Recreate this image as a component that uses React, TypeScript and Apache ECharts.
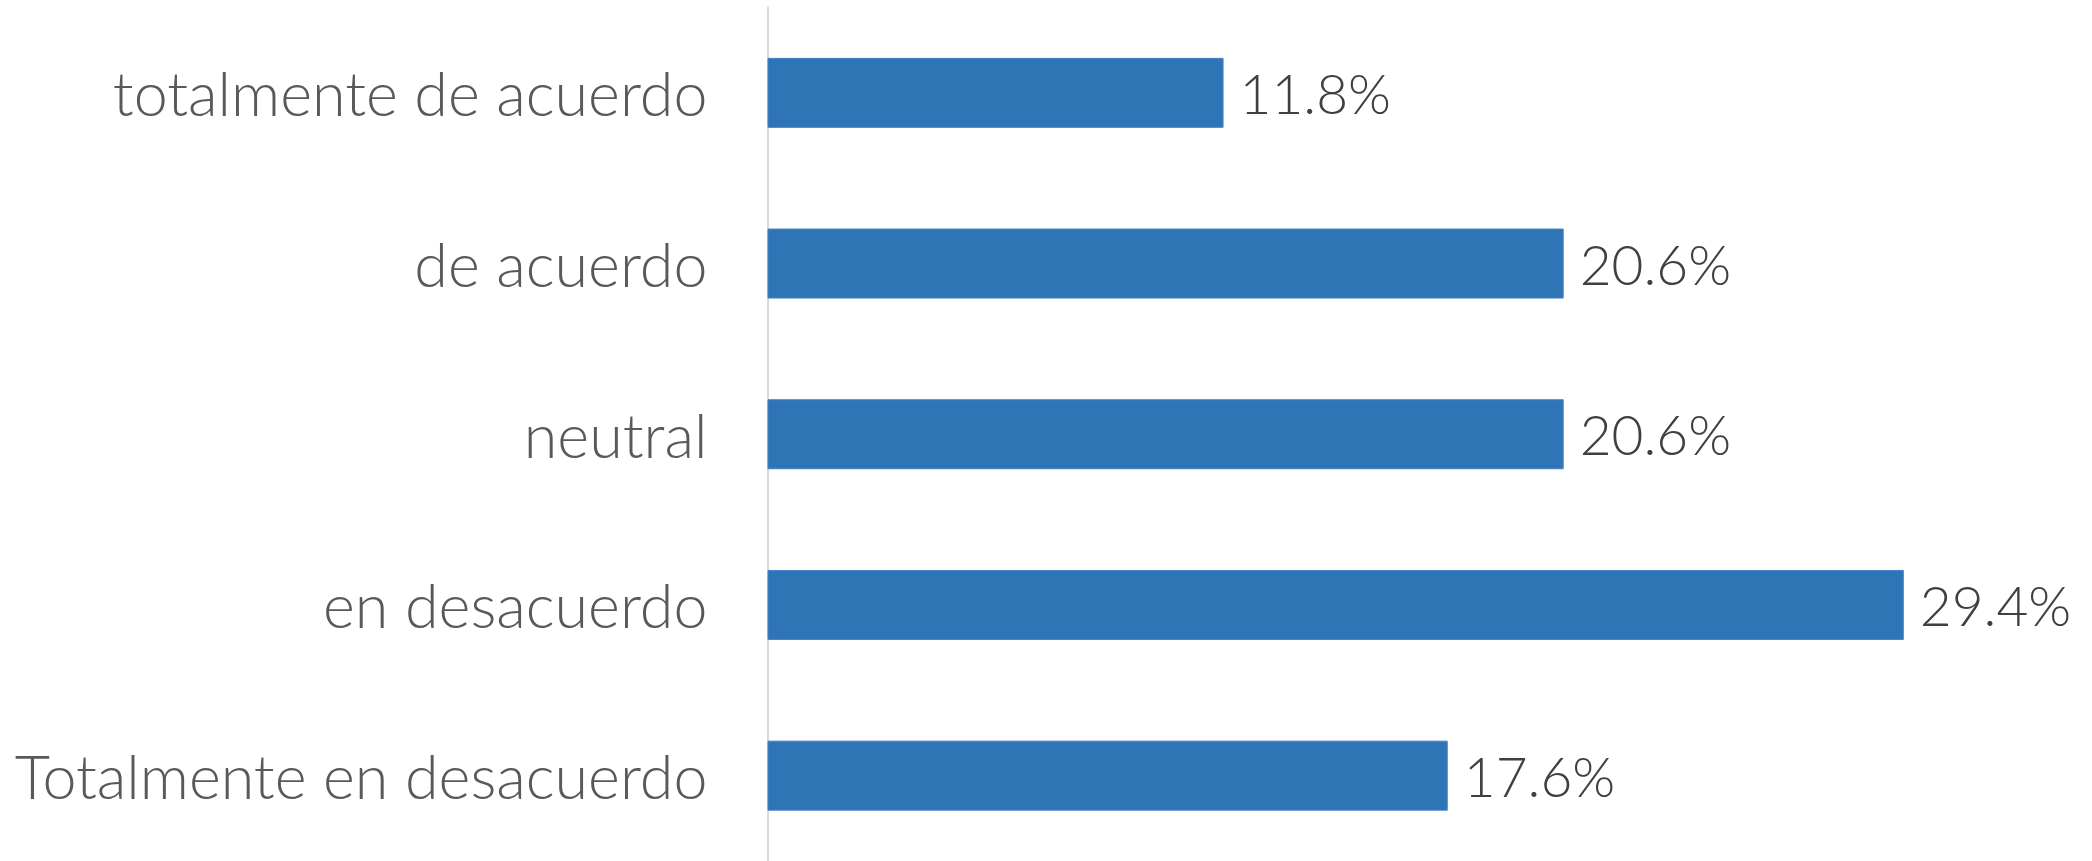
import React, { useEffect, useRef } from "react";
import * as echarts from "echarts";

const categories = [
  "Totalmente en desacuerdo",
  "en desacuerdo",
  "neutral",
  "de acuerdo",
  "totalmente de acuerdo",
];
const values = [17.6, 29.4, 20.6, 20.6, 11.8];

const FONT = "Lato, 'Open Sans', sans-serif";

export default function App() {
  const ref = useRef<HTMLDivElement>(null);
  useEffect(() => {
    if (!ref.current) return;
    const chart = echarts.init(ref.current, null, { renderer: "svg" });
    chart.setOption({
      animation: false,
      backgroundColor: "#ffffff",
      grid: { left: 767.5, top: 7.5, width: 1159.5, height: 855, containLabel: false },
      xAxis: {
        type: "value",
        min: 0,
        max: 30,
        show: false,
        splitLine: { show: false },
      },
      yAxis: {
        type: "category",
        data: categories,
        axisLine: { show: true, lineStyle: { color: "#d9d9d9", width: 2 } },
        axisTick: { show: false },
        axisLabel: {
          color: "#595959",
          fontSize: 61,
          fontWeight: 300,
          fontFamily: FONT,
          margin: 60,
        },
      },
      series: [
        {
          type: "bar",
          data: values,
          barWidth: 70,
          itemStyle: { color: "#2E75B6", borderColor: "#4a7fc6", borderWidth: 1 },
          label: {
            show: true,
            position: "right",
            distance: 16,
            color: "#404040",
            fontSize: 55,
            fontWeight: 300,
            fontFamily: FONT,
            formatter: (p: any) => p.value.toFixed(1) + "%",
          },
        },
      ],
    });
    return () => chart.dispose();
  }, []);
  return (
    <div
      ref={ref}
      style={{ position: "fixed", left: 0, top: 0, width: 2092, height: 861, background: "#fff" }}
    />
  );
}
